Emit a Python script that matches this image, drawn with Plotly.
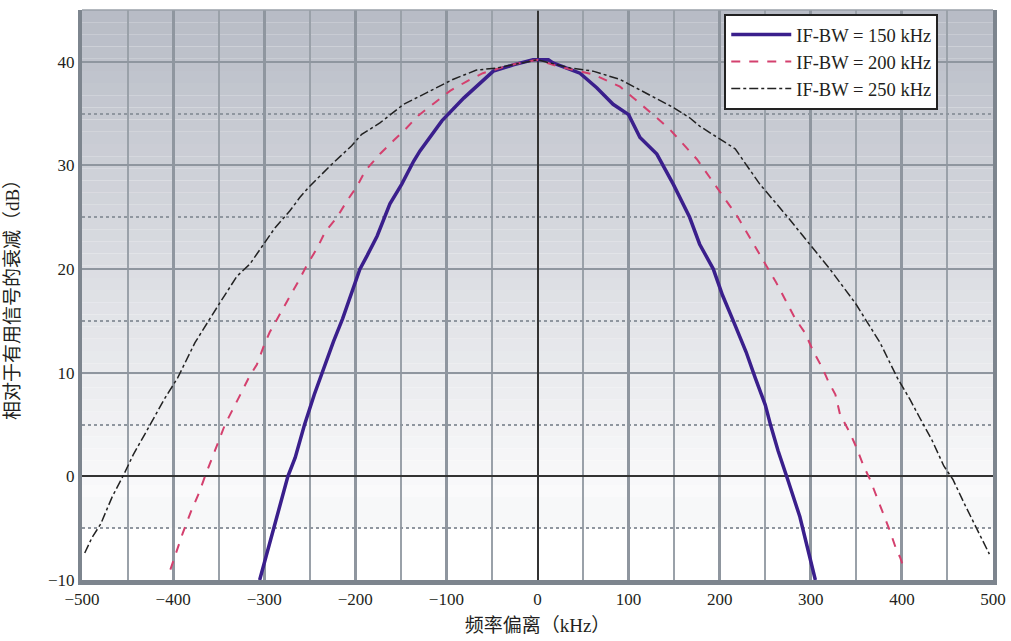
import plotly.graph_objects as go

# IF-BW = 150 kHz
x150 = [-305, -289, -274, -266, -256, -245, -235, -224, -214, -203, -195, -187, -176, -162,
        -149, -136, -129, -105, -81, -48.5, -26.6, -5, 12, 17, 46.6, 65, 83, 100, 112.5, 131,
        149, 167, 178, 193, 203, 214, 229, 239, 250, 256, 264, 275, 288, 305]
y150 = [-10, -5, 0, 1.8, 4.9, 7.9, 10.4, 13, 15.2, 18.1, 20, 21.3, 23.2, 26.3,
        28.2, 30.4, 31.4, 34.3, 36.5, 39.1, 39.7, 40.2, 40.2, 39.9, 38.9, 37.5, 35.9, 34.9, 32.7, 31.1,
        28.2, 25, 22.4, 20, 17.5, 15.2, 12, 9.5, 6.9, 4.9, 2.5, -0.4, -3.9, -10]

# IF-BW = 200 kHz
x200 = [-403, -396, -389.5, -380, -372, -365, -343, -325, -317, -308, -300, -294, -281, -262,
        -253, -242, -233, -220, -209, -198, -189, -173, -158, -145, -131, -115, -96, -78, -60,
        -30, 0, 25, 61, 90.6, 101.5, 127, 145, 160, 175, 220, 253, 262, 283, 294, 302, 313,
        319, 327, 332, 343, 350, 358, 365, 371.6, 381, 387, 394, 398, 403.5]
y200 = [-9, -7.1, -5.5, -3.3, -1.7, 0, 5, 8.1, 9.5, 10.8, 12.7, 13.9, 15.9, 18.9,
        20.4, 22, 23.6, 25, 26.6, 28, 29.5, 31.1, 32.4, 33.5, 34.8, 35.9, 37.2, 38.1, 38.9,
        39.7, 40.2, 39.5, 38.8, 37.6, 36.8, 34.9, 33.5, 32, 30.6, 25, 20, 18.7, 15.2, 13.8, 12.2, 10.4,
        9.2, 7.9, 6, 4.2, 2.8, 1, -0.3, -1.8, -4.1, -5.3, -7.1, -7.8, -9.2]

# IF-BW = 250 kHz
x250 = [-497, -489, -479.5, -467, -454, -443.7, -427, -410, -395, -376, -349, -330, -315.6,
        -299, -288, -272, -261, -250, -226, -204, -193, -173, -147, -122, -93, -67, -45, 0,
        36, 61, 90.6, 123, 149, 167, 178, 217, 244, 272, 299, 321, 349, 376, 395, 409, 419,
        433, 446, 456, 470, 482.6, 496]
y250 = [-7.4, -5.9, -4.6, -2, 0.2, 2.1, 4.7, 7.4, 9.5, 12.9, 16.7, 19.3, 20.5,
        22.6, 24, 25.6, 26.9, 28, 30.1, 31.9, 33, 34.1, 35.9, 37, 38.3, 39.2, 39.4, 40.2,
        39.4, 39.1, 38.3, 36.8, 35.6, 34.6, 33.8, 31.6, 28.2, 25.3, 22.4, 20, 16.7, 12.9, 9.5, 7.4, 5.75,
        3.5, 1, -0.3, -2.9, -5.1, -7.5]

series_names = ["IF-BW = 150 kHz", "IF-BW = 200 kHz", "IF-BW = 250 kHz"]
x_ticks = [-500, -400, -300, -200, -100, 0, 100, 200, 300, 400, 500]
y_ticks = [-10, 0, 10, 20, 30, 40]
y_minor = [-5, 5, 15, 25, 35]

FONT = "Liberation Serif, Times New Roman, Noto Sans CJK SC, serif"

fig = go.Figure()
fig.add_trace(go.Scatter(x=x150, y=y150, mode="lines", name=series_names[0], legendgroup="a",
                         line=dict(color="#3a1f8c", width=3.5)))
fig.add_trace(go.Scatter(x=x200, y=y200, mode="lines", name=series_names[1], legendgroup="b",
                         line=dict(color="#d4406e", width=2, dash="dash")))
fig.add_trace(go.Scatter(x=x250, y=y250, mode="lines", name=series_names[2], legendgroup="c",
                         line=dict(color="#222222", width=1.5, dash="dashdot")))

# background gradient (grey at top fading to white)
shapes = []
top_c = (184, 188, 198)
bot_c = (250, 250, 251)
n = 40
y_top, y_bot = 45, -2
for i in range(n):
    t = i / (n - 1)
    c = tuple(round(top_c[k] + (bot_c[k] - top_c[k]) * t) for k in range(3))
    y0 = y_top - (y_top - y_bot) * i / n
    y1 = y_top - (y_top - y_bot) * (i + 1) / n
    shapes.append(dict(type="rect", xref="paper", yref="y", x0=0, x1=1, y0=y1, y1=y0,
                       fillcolor="rgb(%d,%d,%d)" % c, line=dict(width=0), layer="below"))
shapes.append(dict(type="rect", xref="paper", yref="y", x0=0, x1=1, y0=-5, y1=-2,
                   fillcolor="rgb(247,248,249)", line=dict(width=0), layer="below"))
shapes.append(dict(type="line", xref="paper", yref="paper", x0=0, x1=1, y0=1, y1=1,
                   line=dict(color="#9aa0a8", width=1.5)))

fig.update_layout(
    width=1011, height=641,
    margin=dict(l=82, r=18, t=10, b=61),
    paper_bgcolor="white", plot_bgcolor="white",
    font=dict(family=FONT, size=16, color="#231f20"),
    shapes=shapes,
    showlegend=True,
    legend=dict(x=0.705, y=0.993, xanchor="left", yanchor="top",
                bgcolor="white", bordercolor="#222222", borderwidth=2,
                font=dict(family=FONT, size=18.5, color="#231f20"),
                itemwidth=60, tracegroupgap=0),
    xaxis=dict(range=[-500, 500], tickvals=x_ticks, ticks="", automargin=False,
               showgrid=True, gridcolor="#8f969f", gridwidth=2.5,
               minor=dict(dtick=50, showgrid=True, gridcolor="#9aa1a9", gridwidth=1.5),
               zeroline=True, zerolinecolor="#333333", zerolinewidth=1.5,
               showline=True, linecolor="#7d858e", linewidth=5,
               title=dict(text="频率偏离（kHz）", font=dict(size=19), standoff=12),
               tickfont=dict(size=17)),
    yaxis=dict(range=[-10, 45], tickvals=y_ticks, ticks="", automargin=False,
               showgrid=True, gridcolor="#8f969f", gridwidth=1.8,
               minor=dict(tickvals=y_minor, showgrid=True, gridcolor="#8f969f",
                          gridwidth=2, griddash="dot"),
               zeroline=True, zerolinecolor="#333333", zerolinewidth=1.5,
               showline=True, linecolor="#7d858e", linewidth=4, mirror=True,
               title=dict(text="相对于有用信号的衰减（dB）", font=dict(size=19), standoff=24),
               tickfont=dict(size=17)),
)

fig.write_html("out.html", config={"displayModeBar": False},
               post_script="document.body.style.margin='0';document.body.style.overflow='hidden';")
